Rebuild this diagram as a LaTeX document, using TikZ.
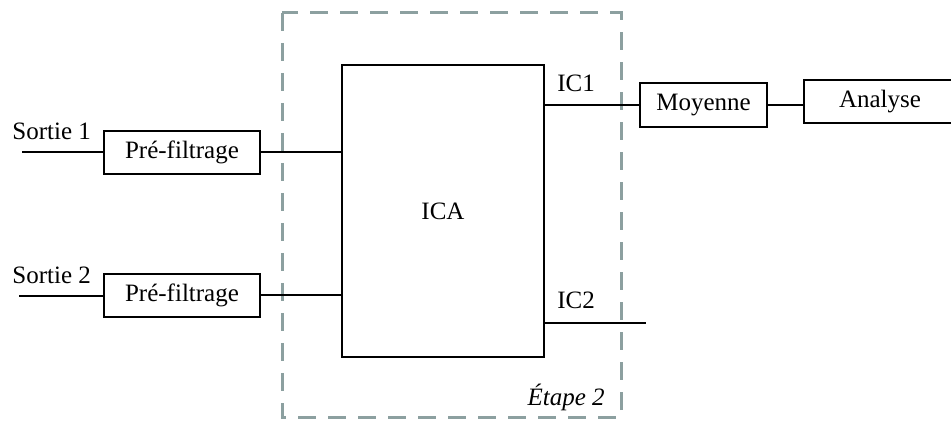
\documentclass[tikz,border=0pt]{standalone}
\usepackage{fontspec}
\setmainfont{Liberation Serif}
\definecolor{stagegray}{RGB}{140,160,160}
\usetikzlibrary{positioning}
\tikzset{
  blockbox/.style={draw, line width=1pt, inner sep=0pt, font=\fontsize{12.5}{15}\selectfont},
  wire/.style={line width=1pt},
  lbl/.style={inner sep=0pt, font=\fontsize{12.5}{15}\selectfont}
}

\begin{document}
\begin{tikzpicture}[x=0.5pt, y=-0.5pt]
\useasboundingbox (0,0) rectangle (951,421);
\clip (0,0) rectangle (951,421);
\draw[stagegray, line width=1.5pt, dash pattern=on 9pt off 6pt] (282,13) rectangle (621,417);
\node[blockbox, minimum width=101pt, minimum height=146pt] (ica) at (443,211.5) {ICA};
\node[blockbox, minimum width=78pt, minimum height=21.5pt] (pre1) at (182,152.5) {Pré-filtrage};
\node[blockbox, minimum width=78pt, minimum height=21.5pt] (pre2) at (182,295.5) {Pré-filtrage};
\node[blockbox, minimum width=63.5pt, minimum height=22pt] (moy) at (703.5,105) {Moyenne};
\node[blockbox, minimum width=76pt, minimum height=21.5pt] (ana) at (880,101.5) {Analyse};
\coordinate (in1) at (22,152.5);
\coordinate (in2) at (19,296);
\coordinate (out2) at (646,323);
\draw[wire] (in1) -- (pre1.west);
\draw[wire] (in2) -- (pre2.west |- in2);
\draw[wire] (pre1.east) -- (pre1.east -| ica.west);
\draw[wire] (pre2.east) -- (pre2.east -| ica.west);
\draw[wire] (moy.west -| ica.east) -- (moy.west);
\draw[wire] (moy.east) -- (moy.east -| ana.west);
\draw[wire] (out2 -| ica.east) -- (out2);
\node[lbl, anchor=base west] (s1) at (12,140) {Sortie 1};
\node[lbl, anchor=base west] (s2) at (12,284) {Sortie 2};
\node[lbl, anchor=base west] (ic1) at (557,92) {IC1};
\node[lbl, anchor=base west] (ic2) at (557,309) {IC2};
\node[lbl, anchor=base east, font=\fontsize{12.5}{15}\selectfont\itshape] (etape) at (605,406) {Étape 2};
\end{tikzpicture}
\end{document}
